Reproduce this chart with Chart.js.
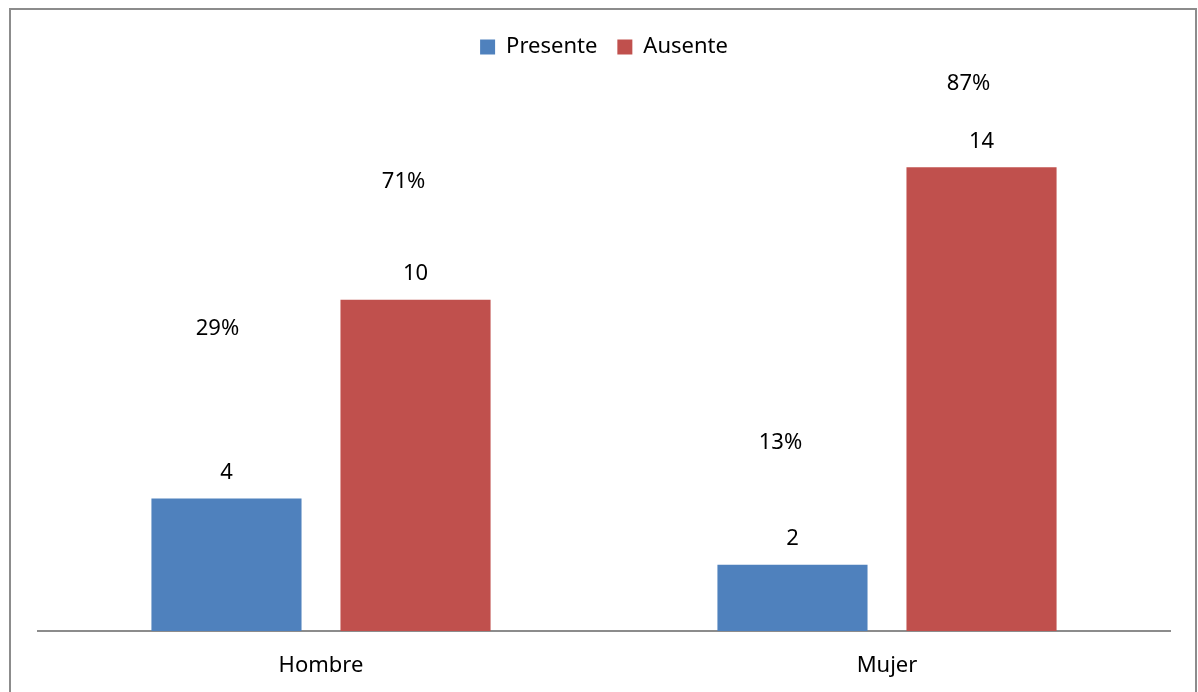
<!DOCTYPE html>
<html>
<head>
<meta charset="utf-8">
<script src="https://cdn.jsdelivr.net/npm/chart.js@4.4.1/dist/chart.umd.min.js"></script>
<style>
  html, body { margin: 0; padding: 0; background: #fff; }
  #wrap { width: 1198px; height: 692px; position: relative; }
</style>
</head>
<body>
<div id="wrap"><canvas id="grafico"></canvas></div>
<script>
const categorias = ['Hombre', 'Mujer'];
const presente = [4, 2];
const ausente = [10, 14];
const pctPresente = ['29%', '13%'];
const pctAusente = ['71%', '87%'];

const FONT = '"Noto Sans", "Open Sans", sans-serif';

// marco gris alrededor del grafico
const marco = {
    id: 'marco',
    beforeDraw(chart) {
        const c = chart.ctx;
        c.save();
        c.fillStyle = '#fff';
        c.fillRect(0, 0, chart.width, chart.height);
        c.strokeStyle = '#8c8c8c';
        c.lineWidth = 2;
        c.strokeRect(10, 9, 1186, 690);
        c.restore();
    }
};

// etiquetas: valor encima de cada barra y porcentaje mas arriba
const etiquetas = {
    id: 'etiquetas',
    afterDatasetsDraw(chart, args, opts) {
        const c = chart.ctx;
        c.save();
        c.font = '22px ' + FONT;
        c.fillStyle = '#000';
        c.textAlign = 'center';
        c.textBaseline = 'middle';
        chart.data.datasets.forEach((ds, i) => {
            const meta = chart.getDatasetMeta(i);
            const pcts = i === 0 ? pctPresente : pctAusente;
            meta.data.forEach((bar, j) => {
                c.fillText(String(ds.data[j]), bar.x, bar.y - 26);
                const off = opts.pctOffsets[i][j];
                c.fillText(pcts[j], bar.x + off[0], bar.y - off[1]);
            });
        });
        c.restore();
    }
};

new Chart(document.getElementById('grafico'), {
    type: 'bar',
    data: {
        labels: categorias,
        datasets: [
            { label: 'Presente', data: presente, backgroundColor: '#4F81BD',
              categoryPercentage: 0.668, barPercentage: 0.794 },
            { label: 'Ausente', data: ausente, backgroundColor: '#C0504D',
              categoryPercentage: 0.668, barPercentage: 0.794 }
        ]
    },
    options: {
        responsive: true,
        maintainAspectRatio: false,
        animation: false,
        layout: { padding: { top: 16, left: 38, right: 28, bottom: 0 } },
        plugins: {
            legend: {
                position: 'top',
                labels: {
                    font: { family: FONT, size: 22 },
                    color: '#000',
                    boxWidth: 15, boxHeight: 15,
                    padding: 20
                }
            },
            tooltip: { enabled: false },
            etiquetas: {
                pctOffsets: [
                    [[-9, 170], [-12, 122]],
                    [[-12, 118], [-13, 84]]
                ]
            }
        },
        scales: {
            x: {
                grid: { display: false, drawTicks: false },
                border: { display: true, color: '#8c8c8c', width: 2 },
                ticks: { color: '#000', font: { family: FONT, size: 22 }, padding: 22 },
                afterFit(scale) { scale.height = 61; }
            },
            y: { display: false, min: 0, max: 17 }
        }
    },
    plugins: [marco, etiquetas]
});
</script>
</body>
</html>
